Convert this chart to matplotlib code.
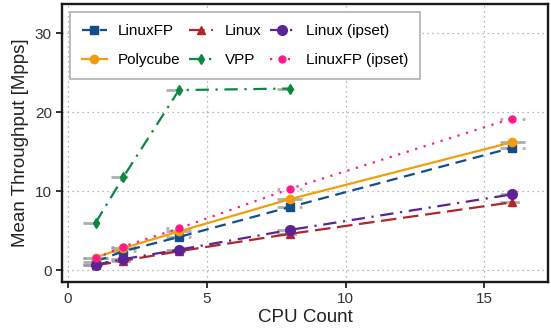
import numpy as np
import matplotlib.pyplot as plt

plt.rcParams['font.family'] = ['Liberation Sans', 'DejaVu Sans']

##CPU counts used for every series
cpus = [1, 2, 4, 8, 16]

##Mean throughput in Mpps
linuxfp = [1.1, 2.4, 4.2, 8.0, 15.5]
polycube = [1.6, 2.8, 4.9, 9.0, 16.2]
linux = [0.6, 1.2, 2.4, 4.6, 8.6]
vpp = [6.0, 11.8, 22.8, 23.0]
linux_ipset = [0.7, 1.4, 2.6, 5.1, 9.6]
linuxfp_ipset = [1.5, 3.0, 5.3, 10.3, 19.2]

##name, values, colour, line style, marker, marker size
series = [
	("LinuxFP", linuxfp, "#124e8c", (0, (5, 3)), "s", 6),
	("Polycube", polycube, "#f29e0c", "-", "o", 6),
	("Linux", linux, "#b2262a", (0, (7, 3)), "^", 6),
	("VPP", vpp, "#0b8741", (0, (6, 3, 1, 3)), "d", 5),
	("Linux (ipset)", linux_ipset, "#5c2396", (0, (6, 3, 1, 3)), "o", 7),
	("LinuxFP (ipset)", linuxfp_ipset, "#ff1a8c", (0, (1, 3)), "o", 5),
]

fig, ax = plt.subplots(figsize=(5.51, 3.33), dpi=100)

for name, vals, col, ls, mk, ms in series:
	x = cpus[:len(vals)]
	##grey bars around each point
	eb = ax.errorbar(x, vals, xerr=0.45, fmt="none", ecolor="#9a9a9a", elinewidth=2, alpha=0.8, zorder=2)
	for lc in eb[2]:
		lc.set_linestyle(ls)
	ax.plot(x, vals, color=col, linestyle=ls, marker=mk, markersize=ms, linewidth=1.6, label=name, zorder=3)

ax.set_xlim(-0.2, 17.3)
ax.set_ylim(-1.5, 33.7)
ax.set_xticks([0, 5, 10, 15])
ax.set_yticks([0, 10, 20, 30])
ax.grid(True, linestyle=(0, (1, 3)), color="#a0a0a0", linewidth=0.9)
ax.set_axisbelow(True)
for s in ax.spines.values():
	s.set_linewidth(1.7)
	s.set_color("#1a1a1a")
ax.tick_params(labelsize=11, width=1.4, length=4, colors="#333333", labelcolor="#333333")
ax.set_xlabel("CPU Count", fontsize=13.5, color="#222222", labelpad=2)
ax.set_ylabel("Mean Throughput [Mpps]", fontsize=13.5, color="#222222", labelpad=4)

leg = ax.legend(loc="upper left", ncol=3, fontsize=11, fancybox=False, framealpha=1,
	edgecolor="#b0b0b0", handlelength=1.6, handletextpad=0.75, columnspacing=0.55,
	borderpad=0.8, labelspacing=1.0)
leg.get_frame().set_linewidth(1.2)

plt.subplots_adjust(left=0.113, right=0.995, top=0.988, bottom=0.153)
plt.savefig("out.png", dpi=100)
